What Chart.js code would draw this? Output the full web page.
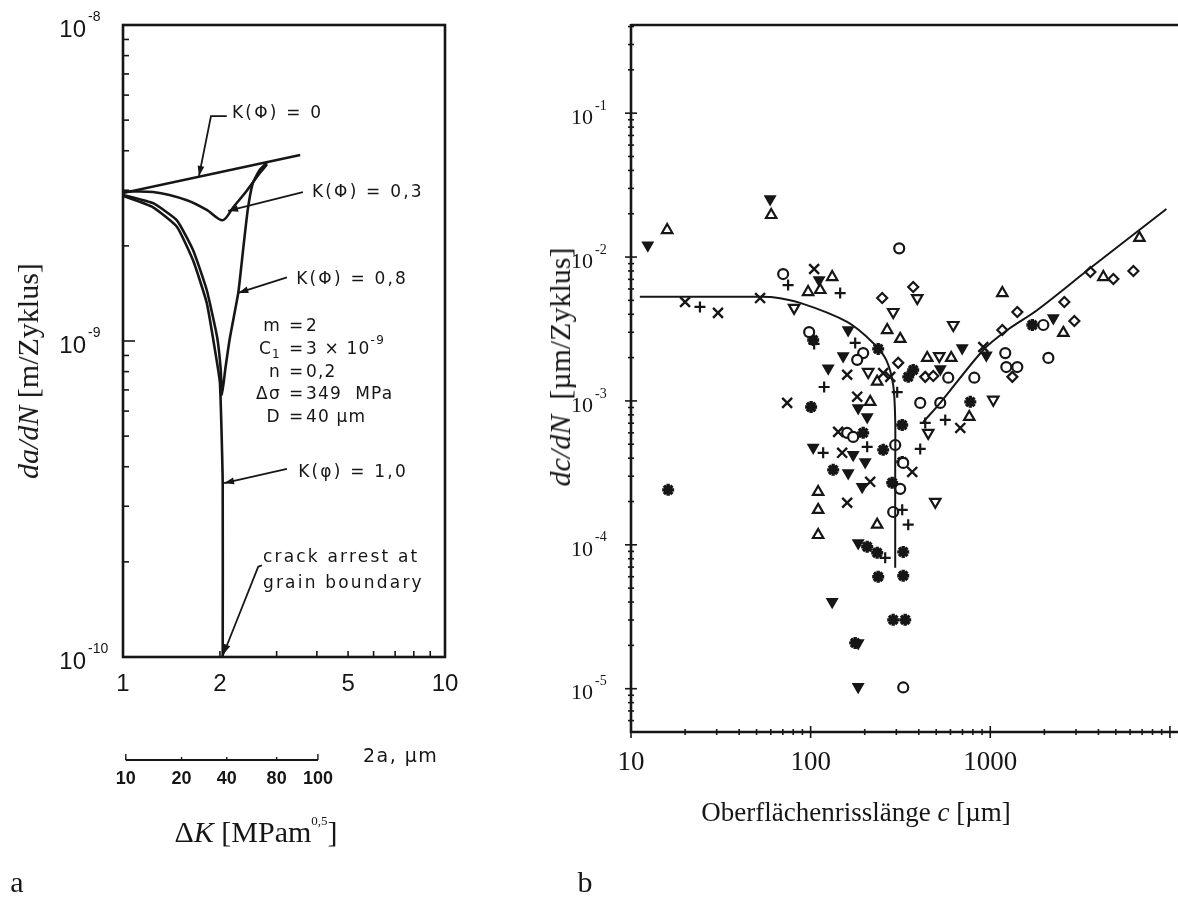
<!DOCTYPE html>
<html lang="de">
<head>
<meta charset="utf-8">
<title>Risswachstum</title>
<script src="https://cdn.jsdelivr.net/npm/chart.js@4.4.1/dist/chart.umd.min.js"></script>
<style>
  html, body { margin: 0; background: #fff; }
  body { position: relative; width: 1178px; height: 897px; overflow: hidden; color: #161616;
         font-family: "Liberation Serif", "Times New Roman", serif; }
  canvas { position: absolute; top: 0; }
  #panelA { left: 0; }
  #panelB { left: 530px; }
  .t { position: absolute; font-size: 30px; line-height: 1; white-space: nowrap; transform: translate(-50%, -50%); }
  .t.v { transform: translate(-50%, -50%) rotate(-90deg); }
  .t.s { font-size: 27px; }
  .t sup { font-size: 13px; vertical-align: top; position: relative; top: -3px; }
</style>
</head>
<body>
<canvas id="panelA" width="560" height="897"></canvas>
<canvas id="panelB" width="710" height="897"></canvas>

<div class="t v" style="left:28px; top:371px"><i>da/dN</i> [m/Zyklus]</div>
<div class="t" style="left:256px; top:832px">Δ<i>K</i> [MPam<sup>0,5</sup>]</div>
<div class="t" style="left:17px; top:882px">a</div>

<div class="t v" style="left:560px; top:367px"><i>dc/dN</i>&nbsp; [µm/Zyklus]</div>
<div class="t s" style="left:856px; top:812px">Oberflächenrisslänge <i>c</i> [µm]</div>
<div class="t" style="left:585px; top:882px">b</div>

<script>
const ink = '#161616'

// ---- a: model curves da/dN over ΔK for different K(Φ) ----
const dK_K0 = [1, 3.55]
const rate_K0 = [2.94e-9, 3.88e-9]
const dK_K03 = [1, 1.24, 1.58, 1.82, 2.04, 2.2, 2.43, 2.66, 2.8]
const rate_K03 = [2.97e-9, 2.96e-9, 2.79e-9, 2.6e-9, 2.41e-9, 2.65e-9, 3.0e-9, 3.4e-9, 3.62e-9]
const dK_K08 = [1, 1.24, 1.47, 1.65, 1.82, 1.96, 2.01, 2.03, 2.08, 2.15, 2.28, 2.36, 2.44, 2.53, 2.66, 2.8]
const rate_K08 = [2.9e-9, 2.73e-9, 2.41e-9, 1.94e-9, 1.45e-9, 1.03e-9, 8.2e-10, 6.75e-10, 8.2e-10, 1.03e-9, 1.42e-9, 1.94e-9, 2.6e-9, 3.16e-9, 3.48e-9, 3.66e-9]
const dK_K10 = [1, 1.24, 1.47, 1.65, 1.82, 1.93, 2.0, 2.04, 2.04]
const rate_K10 = [2.88e-9, 2.65e-9, 2.3e-9, 1.8e-9, 1.32e-9, 9.37e-10, 7.36e-10, 3.55e-10, 1e-10]

const dKTicks = [1, 2, 5, 10]
const rateTicks = [1e-10, 1e-9, 1e-8]
const crackTicks = [10, 20, 40, 80, 100]          // 2a in µm
const crackTickDK = [1.02, 1.52, 2.1, 3.0, 4.03]  // same points on the ΔK scale

// ---- b: measured dc/dN over surface crack length c ----
const cDownFilled = [12.4, 59.5, 111.5, 161.8, 151.7, 125.2, 183.9, 206.4, 2244, 698, 527, 950, 103.3, 172.5, 201.2, 161.8, 193.6, 183.9, 131.8, 183.9, 183.9]
const rateDownFilled = [1.21e-2, 2.53e-2, 6.92e-3, 3.11e-3, 2.05e-3, 1.69e-3, 8.93e-4, 7.74e-4, 3.77e-3, 2.33e-3, 1.67e-3, 2.08e-3, 4.75e-4, 4.22e-4, 3.77e-4, 3.16e-4, 2.53e-4, 1.03e-4, 4.02e-5, 2.08e-5, 1.03e-5]
const cUpOpen = [15.9, 60.3, 113, 131.8, 96.8, 1167, 4261, 6764, 266.8, 315.2, 445.7, 606.4, 234.6, 214.5, 2551, 764, 110.1, 110.1, 110.1, 234.6]
const rateUpOpen = [1.54e-2, 1.96e-2, 5.9e-3, 7.26e-3, 5.71e-3, 5.62e-3, 7.26e-3, 1.36e-2, 3.11e-3, 2.7e-3, 1.99e-3, 1.99e-3, 1.36e-3, 9.85e-4, 2.97e-3, 7.74e-4, 2.33e-4, 1.75e-4, 1.17e-4, 1.38e-4]
const cCircle = [311.2, 70.3, 98.1, 196.1, 181.6, 583.5, 407.4, 526.6, 1212, 1228, 1414, 814.8, 2105, 1974, 159.7, 172.5, 295.6, 327.6, 315.2, 288.1, 327.6]
const rateCircle = [1.15e-2, 7.62e-3, 3.01e-3, 2.15e-3, 1.93e-3, 1.45e-3, 9.69e-4, 9.69e-4, 2.15e-3, 1.72e-3, 1.72e-3, 1.45e-3, 1.99e-3, 3.37e-3, 6.0e-4, 5.62e-4, 4.94e-4, 3.71e-4, 2.45e-4, 1.69e-4, 1.02e-5]
const cCross = [20, 30.5, 52.3, 104.6, 159.7, 277.3, 74, 181.6, 142.3, 914, 680.7, 253.5, 149.8, 367.7, 214.5, 159.7]
const rateCross = [4.87e-3, 4.09e-3, 5.19e-3, 8.26e-3, 1.52e-3, 1.47e-3, 9.69e-4, 1.07e-3, 6.09e-4, 2.37e-3, 6.49e-4, 1.56e-3, 4.36e-4, 3.21e-4, 2.74e-4, 1.96e-4]
const cPlus = [24.2, 74.9, 146, 177, 104.6, 118.9, 303.3, 434.4, 561.5, 117.4, 206.4, 407.4, 323.4, 349.3, 260]
const ratePlus = [4.5e-3, 6.39e-3, 5.62e-3, 2.53e-3, 2.49e-3, 1.25e-3, 1.15e-3, 7.03e-4, 7.38e-4, 4.36e-4, 4.8e-4, 4.64e-4, 1.75e-4, 1.38e-4, 8.12e-5]
const cDiamond = [250.2, 372.4, 307.2, 434.4, 481.5, 1414, 2584, 2938, 3607, 4845, 6262, 1327, 1167]
const rateDiamond = [5.19e-3, 6.19e-3, 1.84e-3, 1.47e-3, 1.49e-3, 4.15e-3, 4.87e-3, 3.59e-3, 7.87e-3, 7.03e-3, 8.0e-3, 1.47e-3, 3.11e-3]
const cDownOpen = [80.9, 288.1, 392.1, 622.2, 209.1, 1039, 519.9, 451.4, 494]
const rateDownOpen = [4.43e-3, 4.15e-3, 5.19e-3, 3.37e-3, 1.59e-3, 1.02e-3, 2.05e-3, 6.0e-4, 1.99e-4]
const cStar = [100.6, 237.7, 196.1, 372.4, 349.3, 323.4, 774, 103.3, 1714, 16.1, 253.5, 133.5, 323.4, 284.4, 206.4, 234.6, 327.6, 237.7, 327.6, 288.1, 336.1, 177]
const rateStar = [9.08e-4, 2.3e-3, 6.0e-4, 1.64e-3, 1.47e-3, 6.81e-4, 9.85e-4, 2.65e-3, 3.37e-3, 2.41e-4, 4.57e-4, 3.32e-4, 3.77e-4, 2.7e-4, 9.69e-5, 8.8e-5, 8.93e-5, 6.0e-5, 6.09e-5, 3.01e-5, 3.01e-5, 2.08e-5]

// trend lines: deceleration up to the grain boundary, then growth
const cArrest = [11.2, 24.2, 47.8, 60.3, 87.4, 159.7, 222.9, 263.4, 288.1, 295.6, 295.6, 295.6]
const rateArrest = [5.3e-3, 5.3e-3, 5.3e-3, 5.27e-3, 4.8e-3, 3.54e-3, 2.53e-3, 1.93e-3, 1.29e-3, 7.38e-4, 3.32e-4, 6.92e-5]
const cGrowth = [423.4, 526.6, 914.2, 1244, 1828, 3607, 9561]
const rateGrowth = [7.14e-4, 9.69e-4, 2.26e-3, 3.11e-3, 4.29e-3, 8.39e-3, 2.16e-2]

const cTicks = [10, 100, 1000]
const rateTicksB = [1e-5, 1e-4, 1e-3, 1e-2, 1e-1]

// labels and leaders in panel a, anchored in data units
const notes = [
  { text: 'K(Φ) = 0', at: [2.18, 5.23e-9], path: [[2.10, 5.15e-9], [1.876, 5.15e-9], [1.722, 3.33e-9]] },
  { text: 'K(Φ) = 0,3', at: [3.86, 2.94e-9], path: [[3.62, 2.96e-9], [2.12, 2.58e-9]] },
  { text: 'K(Φ) = 0,8', at: [3.45, 1.56e-9], path: [[3.23, 1.59e-9], [2.28, 1.42e-9]] },
  { text: 'K(φ) = 1,0', at: [3.50, 3.82e-10], path: [[3.23, 3.94e-10], [2.06, 3.55e-10]] },
  { text: 'crack arrest at', at: [2.72, 2.06e-10], path: [[2.70, 1.95e-10], [2.63, 1.93e-10], [2.05, 1.02e-10]] },
  { text: 'grain boundary', at: [2.72, 1.71e-10] }
]
const params = [
  { name: [{ t: 'm' }], value: [{ t: '2' }], at: 1.11e-9 },
  { name: [{ t: 'C' }, { t: '1', sub: true }], value: [{ t: '3 × 10' }, { t: '-9', sup: true }], at: 9.37e-10 },
  { name: [{ t: 'n' }], value: [{ t: '0,2' }], at: 7.92e-10 },
  { name: [{ t: 'Δσ' }], value: [{ t: '349  MPa' }], at: 6.75e-10 },
  { name: [{ t: 'D' }], value: [{ t: '40 µm' }], at: 5.71e-10 }
]
const paramEqDK = 3.37

function pairs(xs, ys) { return xs.map((v, i) => ({ x: v, y: ys[i] })) }

function seg(ctx, x1, y1, x2, y2) {
  ctx.beginPath(); ctx.moveTo(x1, y1); ctx.lineTo(x2, y2); ctx.stroke()
}

function arrowHead(ctx, fx, fy, tx, ty) {
  const ang = Math.atan2(ty - fy, tx - fx), len = 10, half = 3.4
  const bx = tx - len * Math.cos(ang), by = ty - len * Math.sin(ang)
  ctx.beginPath()
  ctx.moveTo(tx, ty)
  ctx.lineTo(bx + half * Math.sin(ang), by - half * Math.cos(ang))
  ctx.lineTo(bx - half * Math.sin(ang), by + half * Math.cos(ang))
  ctx.closePath(); ctx.fill()
}

function richFont(p, size) {
  return `${p.sub || p.sup ? Math.round(size * 0.72) : size}px "DejaVu Sans"`
}
function richWidth(ctx, parts, size) {
  return parts.reduce((w, p) => { ctx.font = richFont(p, size); return w + ctx.measureText(p.t).width }, 0)
}
function richText(ctx, parts, x, y, size) {
  let cx = x
  parts.forEach(p => {
    ctx.font = richFont(p, size)
    const dy = p.sup ? -size * 0.55 : p.sub ? size * 0.3 : 0
    ctx.fillText(p.t, cx, y + dy)
    cx += ctx.measureText(p.t).width
  })
}

function logAxis(min, max, fit, weight) {
  return { type: 'logarithmic', min, max, weight: weight || 0, afterFit: fit,
           grid: { display: false }, border: { display: false }, ticks: { display: false } }
}

function powLabel(ctx, v, xRight, py, baseFont, supFont, lift) {
  ctx.textBaseline = 'middle'
  ctx.font = baseFont; ctx.textAlign = 'right'
  ctx.fillText('10', xRight, py + 5)
  ctx.font = supFont; ctx.textAlign = 'left'
  ctx.fillText(String(Math.round(Math.log10(v))), xRight + 2, py - lift)
}

const panelA = {
  id: 'panelA',
  afterDraw(chart) {
    const { ctx, chartArea: a } = chart
    const { x, y, k2 } = chart.scales
    const px = v => x.getPixelForValue(v), py = v => y.getPixelForValue(v)
    ctx.save()
    ctx.strokeStyle = ink; ctx.fillStyle = ink
    ctx.lineWidth = 2.6
    ctx.strokeRect(a.left, a.top, a.right - a.left, a.bottom - a.top)

    ctx.lineWidth = 1.6
    for (let e = -10; e < -8; e++) {
      for (let m = 1; m < 10; m++) {
        const yy = py(m * Math.pow(10, e))
        seg(ctx, a.left, yy, a.left + (m === 1 ? 12 : 6), yy)
      }
    }
    for (let m = 2; m < 10; m++) seg(ctx, px(m), a.bottom, px(m), a.bottom - 6)

    rateTicks.forEach(v => powLabel(ctx, v, a.left - 37, py(v), '24px "Liberation Sans"', '14px "Liberation Sans"', 8))
    ctx.font = '24px "Liberation Sans"'; ctx.textAlign = 'center'; ctx.textBaseline = 'middle'
    dKTicks.forEach(v => ctx.fillText(String(v), px(v), a.bottom + 27))

    // 2a scale under the ΔK axis
    const ky = k2.top
    const kx = v => k2.getPixelForValue(v)
    ctx.lineWidth = 2
    seg(ctx, kx(crackTickDK[0]), ky, kx(crackTickDK[crackTickDK.length - 1]), ky)
    ctx.lineWidth = 1.4
    crackTickDK.forEach((v, i) => {
      const h = i === 0 || i === crackTickDK.length - 1 ? 6 : 3
      seg(ctx, kx(v), ky, kx(v), ky - h)
    })
    ctx.font = 'bold 18px "Liberation Sans"'
    crackTicks.forEach((v, i) => ctx.fillText(String(v), kx(crackTickDK[i]), ky + 19))
    ctx.textAlign = 'left'
    ctx.letterSpacing = '1.5px'
    ctx.font = '19px "DejaVu Sans"'
    ctx.fillText('2a, µm', kx(5.56), ky - 3)

    // leaders and labels
    ctx.letterSpacing = '2.2px'
    ctx.lineWidth = 1.8
    notes.forEach(n => {
      ctx.font = '17px "DejaVu Sans"'
      ctx.fillText(n.text, px(n.at[0]), py(n.at[1]))
      if (!n.path) return
      const pts = n.path.map(p => [px(p[0]), py(p[1])])
      ctx.beginPath()
      pts.forEach((p, i) => i ? ctx.lineTo(p[0], p[1]) : ctx.moveTo(p[0], p[1]))
      ctx.stroke()
      const t = pts[pts.length - 1], f = pts[pts.length - 2]
      arrowHead(ctx, f[0], f[1], t[0], t[1])
    })

    ctx.letterSpacing = '1.2px'
    const eqX = px(paramEqDK)
    params.forEach(r => {
      const yy = py(r.at)
      const w = richWidth(ctx, r.name, 17)
      richText(ctx, r.name, eqX - 12 - w, yy, 17)
      ctx.font = '17px "DejaVu Sans"'
      ctx.fillText('=', eqX - 4, yy)
      richText(ctx, r.value, eqX + 13, yy, 17)
    })
    ctx.letterSpacing = '0px'
    ctx.restore()
  }
}

const panelB = {
  id: 'panelB',
  afterDraw(chart) {
    const { ctx, chartArea: a } = chart
    const { x, y } = chart.scales
    ctx.save()
    ctx.strokeStyle = ink; ctx.fillStyle = ink
    ctx.lineWidth = 2.6
    seg(ctx, a.left, a.top, a.right, a.top)
    seg(ctx, a.left, a.top - 1, a.left, a.bottom + 1)
    seg(ctx, a.left, a.bottom, a.right, a.bottom)

    ctx.lineWidth = 1.6
    for (let e = -6; e <= 0; e++) {
      for (let m = 1; m < 10; m++) {
        const v = m * Math.pow(10, e)
        if (v < y.min || v > y.max) continue
        const yy = y.getPixelForValue(v), h = m === 1 ? 6 : 3
        seg(ctx, a.left - h, yy, a.left + h, yy)
      }
    }
    for (let e = 1; e <= 4; e++) {
      for (let m = 1; m < 10; m++) {
        const v = m * Math.pow(10, e)
        if (v < x.min || v > x.max) continue
        const xx = x.getPixelForValue(v), h = m === 1 ? 6 : 3
        seg(ctx, xx, a.bottom - h, xx, a.bottom + h)
      }
    }

    rateTicksB.forEach(v => powLabel(ctx, v, a.left - 38, y.getPixelForValue(v), '22px "Liberation Serif"', '14px "Liberation Serif"', 7))
    ctx.font = '27px "Liberation Serif"'; ctx.textAlign = 'center'; ctx.textBaseline = 'middle'
    cTicks.forEach(v => ctx.fillText(String(v), x.getPixelForValue(v), a.bottom + 31))
    ctx.restore()
  }
}

function modelCurve(xs, ys, tension) {
  return { data: pairs(xs, ys), borderColor: ink, borderWidth: 2.6, pointRadius: 0, tension, fill: false }
}
function trend(xs, ys) {
  return { type: 'line', data: pairs(xs, ys), showLine: true, borderColor: ink, borderWidth: 2,
           pointRadius: 0, tension: 0.3, fill: false }
}
function marks(xs, ys, style) {
  return Object.assign({ data: pairs(xs, ys), pointBorderColor: ink, pointBackgroundColor: '#fff',
                         pointBorderWidth: 2.2, pointRadius: 5.5, pointHoverRadius: 5.5 }, style)
}

new Chart(document.getElementById('panelA'), {
  type: 'line',
  data: {
    datasets: [
      modelCurve(dK_K0, rate_K0, 0),
      modelCurve(dK_K03, rate_K03, 0.3),
      modelCurve(dK_K08, rate_K08, 0.15),
      modelCurve(dK_K10, rate_K10, 0.15)
    ]
  },
  options: {
    responsive: false, animation: false, devicePixelRatio: 1,
    layout: { padding: { top: 25, right: 115, bottom: 0, left: 0 } },
    plugins: { legend: { display: false }, tooltip: { enabled: false } },
    scales: {
      x: logAxis(1, 10, s => { s.height = 103 }, 0),
      k2: Object.assign(logAxis(1, 10, s => { s.height = 137 }, 1), { axis: 'x', position: 'bottom' }),
      y: logAxis(1e-10, 1e-8, s => { s.width = 123 })
    }
  },
  plugins: [panelA]
})

new Chart(document.getElementById('panelB'), {
  type: 'scatter',
  data: {
    datasets: [
      trend(cArrest, rateArrest),
      trend(cGrowth, rateGrowth),
      marks(cDownFilled, rateDownFilled, { pointStyle: 'triangle', pointRotation: 180, pointRadius: 6, pointBackgroundColor: ink, pointBorderWidth: 1.5 }),
      marks(cUpOpen, rateUpOpen, { pointStyle: 'triangle', pointRadius: 6 }),
      marks(cCircle, rateCircle, { pointStyle: 'circle', pointRadius: 5 }),
      marks(cCross, rateCross, { pointStyle: 'crossRot', pointRadius: 7, pointBorderWidth: 2.4 }),
      marks(cPlus, ratePlus, { pointStyle: 'cross', pointRadius: 5.5 }),
      marks(cDiamond, rateDiamond, { pointStyle: 'rectRot', pointRadius: 5 }),
      marks(cDownOpen, rateDownOpen, { pointStyle: 'triangle', pointRotation: 180, pointRadius: 6 }),
      marks(cStar, rateStar, { pointStyle: 'star', pointRadius: 6, pointBorderWidth: 3.4 })
    ]
  },
  options: {
    responsive: false, animation: false, devicePixelRatio: 1,
    layout: { padding: { top: 25, right: 16, bottom: 0, left: 0 } },
    plugins: { legend: { display: false }, tooltip: { enabled: false } },
    scales: {
      x: logAxis(10, 20000, s => { s.height = 165 }),
      y: logAxis(5e-6, 0.41, s => { s.width = 101 })
    }
  },
  plugins: [panelB]
})
</script>
</body>
</html>
